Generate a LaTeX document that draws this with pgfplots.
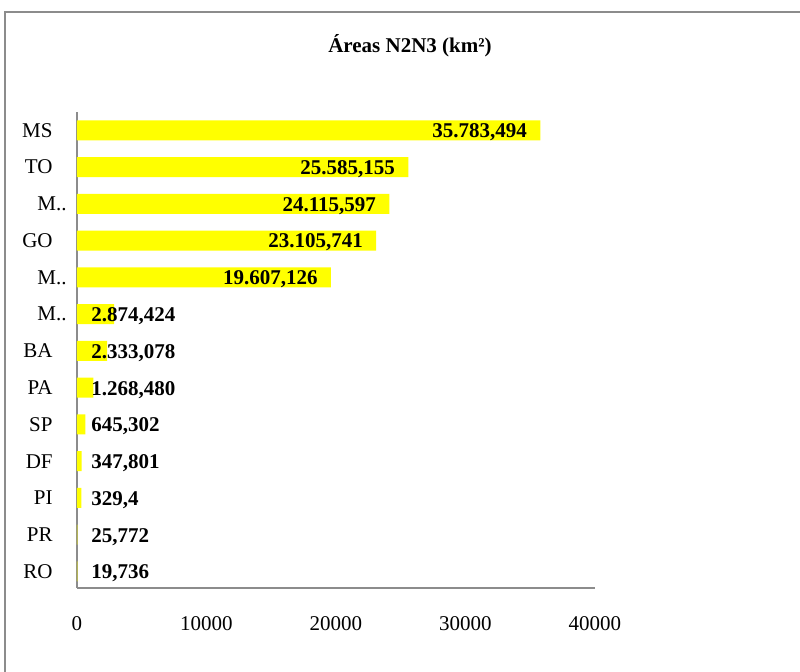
\documentclass[border=0pt]{standalone}
\usepackage{fontspec}
\setmainfont{Liberation Serif}
\usepackage{pgfplots}
\usepackage{pgfplotstable}
\pgfplotsset{compat=1.18}

% areas N2N3 by state (km2), bottom to top
\pgfplotstableread{
y val lab
12 35783.494 35.783,494
11 25585.155 25.585,155
10 24115.597 24.115,597
9 23105.741 23.105,741
8 19607.126 19.607,126
7 2874.424 2.874,424
6 2333.078 2.333,078
5 1268.480 1.268,480
4 645.302 645,302
3 347.801 347,801
2 329.4 329,4
1 25.772 25,772
0 19.736 19,736
}\areas
\pgfplotstableread{
y val lab
12 35783.494 35.783,494
11 25585.155 25.585,155
10 24115.597 24.115,597
9 23105.741 23.105,741
8 19607.126 19.607,126
}\biglab
\pgfplotstableread{
y val lab
7 0 2.874,424
6 0 2.333,078
5 0 1.268,480
4 0 645,302
3 0 347,801
2 0 329,4
1 0 25,772
0 0 19,736
}\smalllab

\definecolor{frame}{HTML}{8C8C8C}
\definecolor{baryellow}{HTML}{FFFF00}
\newcommand{\trunc}{M..\kern-7pt}

\begin{document}
\begin{tikzpicture}[font=\fontsize{10.5}{12.5}\selectfont]
\useasboundingbox (0,0) rectangle (400pt,336pt);
\draw[frame, line width=1pt] (2.5pt,-20pt) rectangle (420pt,330pt);
\node[font=\bfseries\fontsize{10.5}{12.5}\selectfont] at (205pt,313pt) {Áreas N2N3 (km²)};
\begin{axis}[at={(38.5pt,42pt)}, anchor=south west,
  scale only axis, width=259pt, height=238pt,
  xmin=0, xmax=40000, ymin=-0.45, ymax=12.5,
  axis lines=left, axis line style={-, frame, line width=0.75pt},
  xtick={0,10000,20000,30000,40000},
  ytick={0,...,12},
  yticklabels={RO,PR,PI,DF,SP,PA,BA,\trunc,\trunc,GO,\trunc,TO,MS},
  major tick length=0pt,
  scaled x ticks=false,
  /pgf/number format/assume math mode=true,
  xticklabel={\pgfmathprintnumber[fixed,1000 sep={}]{\tick}},
  xticklabel style={anchor=north, inner sep=0pt, yshift=-14pt},
  yticklabel style={anchor=east, inner sep=0pt, xshift=-12pt},
  tick label style={font=\fontsize{10.5}{12.5}\selectfont},
  clip=false]
\addplot[xbar, bar width=10pt, bar shift=0pt, fill=baryellow, draw=none]
  table[x=val, y=y] {\areas};
\addplot[only marks, mark=none, nodes near coords, point meta=explicit symbolic,
  nodes near coords style={anchor=east, inner sep=0pt, xshift=-6.5pt, yshift=-1pt,
    font=\bfseries\fontsize{10.5}{12.5}\selectfont}]
  table[x=val, y=y, meta=lab] {\biglab};
\addplot[only marks, mark=none, nodes near coords, point meta=explicit symbolic,
  nodes near coords style={anchor=west, inner sep=0pt, xshift=7pt, yshift=-1pt,
    font=\bfseries\fontsize{10.5}{12.5}\selectfont}]
  table[x=val, y=y, meta=lab] {\smalllab};
\end{axis}
\end{tikzpicture}
\end{document}
